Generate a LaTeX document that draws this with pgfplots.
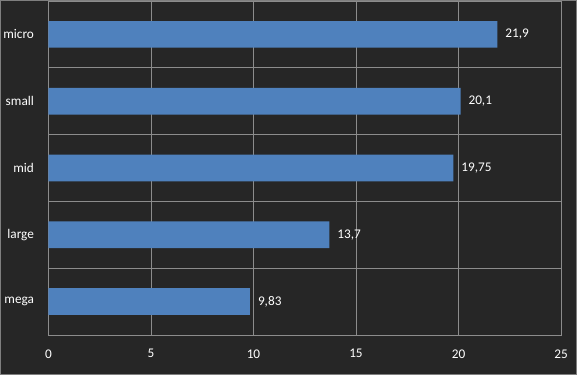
\documentclass[border=0pt]{standalone}
\usepackage{pgfplots}
\pgfplotsset{compat=1.18}
\usepackage{pgfplotstable}
\usepackage{fontspec}
\setmainfont{Carlito}
\definecolor{bgc}{HTML}{262626}
\definecolor{barc}{HTML}{4F81BD}
\definecolor{gridc}{HTML}{8C8C8C}
\definecolor{framec}{HTML}{7F7F7F}
\pgfplotstableread{
y x lab
0 9.83 9,83
1 13.7 13,7
2 19.75 19,75
3 20.1 20,1
4 21.9 21,9
}\datatab
\begin{document}
\begin{tikzpicture}
\fill[bgc] (0,0) rectangle (577bp,375bp);
\draw[framec, line width=1bp] (0.5bp,0.5bp) rectangle (576.5bp,374.5bp);
\begin{axis}[
  at={(48.3bp,40bp)}, anchor=south west,
  scale only axis,
  width=512.7bp, height=334bp,
  xmin=0, xmax=25,
  ymin=-0.5, ymax=4.5,
  xtick={0,5,10,15,20,25},
  ytick={0,1,2,3,4},
  yticklabels={mega,large,mid,small,micro},
  minor ytick={-0.5,0.5,1.5,2.5,3.5,4.5},
  xmajorgrids, yminorgrids,
  major grid style={gridc, line width=0.8bp},
  minor grid style={gridc, line width=0.8bp},
  axis line style={gridc, line width=0.8bp},
  major tick length=0pt, minor tick length=0pt,
  tick style={draw=none},
  font=\fontsize{13}{15}\selectfont,
  ticklabel style={text=white, font=\fontsize{13.3}{15}\selectfont},
  xticklabel style={yshift=-11bp},
  yticklabel style={xshift=-11bp},
  /pgf/number format/assume math mode=true,
  axis on top=false,
]
\addplot[xbar, bar width=0.4, fill=barc, draw=none,
  nodes near coords, point meta=explicit symbolic,
  every node near coord/.append style={text=white, font=\fontsize{13.3}{15}\selectfont, anchor=west, xshift=4.5bp}]
  table[x=x, y=y, meta=lab] {\datatab};
\end{axis}
\end{tikzpicture}
\end{document}
